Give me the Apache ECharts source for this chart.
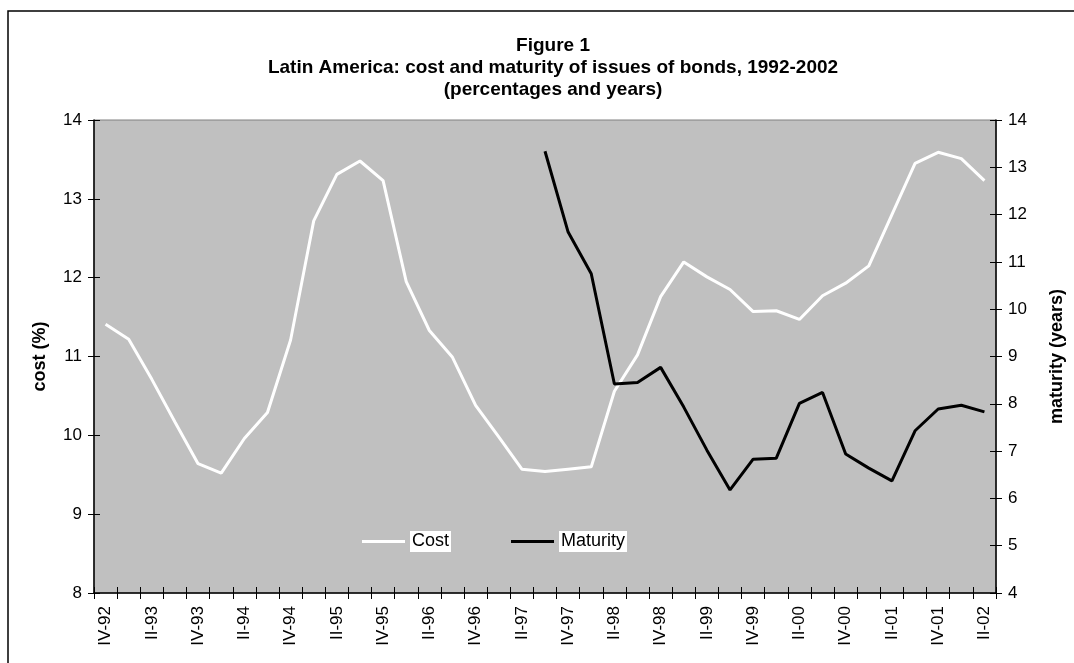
<!DOCTYPE html>
<html>
<head>
<meta charset="utf-8">
<script src="https://cdn.jsdelivr.net/npm/echarts@6/dist/echarts.min.js"></script>
<style>
html,body{margin:0;padding:0;background:#fff;}
#chart{width:1074px;height:663px;}
</style>
</head>
<body>
<div id="chart"></div>
<script>
// Quarters IV-92 .. II-02
const quarters = ['IV-92',
  'I-93','II-93','III-93','IV-93',
  'I-94','II-94','III-94','IV-94',
  'I-95','II-95','III-95','IV-95',
  'I-96','II-96','III-96','IV-96',
  'I-97','II-97','III-97','IV-97',
  'I-98','II-98','III-98','IV-98',
  'I-99','II-99','III-99','IV-99',
  'I-00','II-00','III-00','IV-00',
  'I-01','II-01','III-01','IV-01',
  'I-02','II-02'];

// cost (%), left axis
const cost = [11.41, 11.22, 10.71, 10.17, 9.64, 9.52, 9.96, 10.29, 11.21, 12.72,
  13.31, 13.48, 13.23, 11.95, 11.33, 10.99, 10.38, 9.98, 9.57, 9.54,
  9.57, 9.60, 10.56, 11.02, 11.76, 12.20, 12.01, 11.85, 11.57, 11.58,
  11.47, 11.77, 11.93, 12.15, 12.80, 13.45, 13.59, 13.51, 13.23];

// maturity (years), right axis
const maturity = [null, null, null, null, null, null, null, null, null, null,
  null, null, null, null, null, null, null, null, null, 13.34,
  11.63, 10.75, 8.42, 8.45, 8.77, 7.93, 7.02, 6.18, 6.83, 6.85,
  8.01, 8.24, 6.94, 6.64, 6.37, 7.43, 7.89, 7.97, 7.83];

const costTicks = {min: 8, max: 14, interval: 1};
const maturityTicks = {min: 4, max: 14, interval: 1};

const FONT = 'Liberation Sans, Arial, sans-serif';
const chart = echarts.init(document.getElementById('chart'));

const baseX = {
  type: 'category',
  data: quarters,
  boundaryGap: true,
  position: 'bottom',
  splitLine: {show: false}
};
const baseY = {
  type: 'value',
  splitLine: {show: false}
};

chart.setOption({
  animation: false,
  backgroundColor: '#ffffff',
  graphic: [{
    type: 'rect',
    shape: {x: 8, y: 11, width: 1100, height: 700},
    style: {fill: 'none', stroke: '#000', lineWidth: 1.5},
    silent: true
  }],
  title: {
    text: 'Figure 1\nLatin America: cost and maturity of issues of bonds, 1992-2002\n(percentages and years)',
    left: 548,
    top: 30,
    textAlign: 'center',
    textStyle: {fontFamily: FONT, fontWeight: 'bold', fontSize: 19, lineHeight: 22, color: '#000'}
  },
  legend: {
    left: 362,
    top: 531,
    padding: 0,
    itemWidth: 43,
    itemHeight: 3,
    itemGap: 60,
    itemTextGap: 3,
    textStyle: {fontFamily: FONT, fontSize: 18, color: '#000', backgroundColor: '#fff', padding: [2, 2, 1, 2]},
    data: [
      {name: 'Cost', icon: 'rect', itemStyle: {color: '#ffffff'}},
      {name: 'Maturity', icon: 'rect', itemStyle: {color: '#000000'}}
    ]
  },
  grid: {
    left: 94, right: 71, top: 120, bottom: 70,
    show: true,
    backgroundColor: '#c0c0c0',
    borderColor: '#808080',
    borderWidth: 1
  },
  xAxis: [
    Object.assign({}, baseX, {
      axisLine: {show: true, lineStyle: {color: '#000', width: 1.5}},
      axisTick: {show: true, interval: 0, length: 6, lineStyle: {color: '#000'}},
      axisLabel: {interval: 1, rotate: 90, margin: 13, fontFamily: FONT, fontSize: 17, color: '#000'}
    }),
    Object.assign({}, baseX, {
      axisLine: {show: false},
      axisTick: {show: true, inside: true, interval: 0, length: 6, lineStyle: {color: '#000'}},
      axisLabel: {show: false}
    })
  ],
  yAxis: [
    Object.assign({}, baseY, costTicks, {
      position: 'left',
      name: 'cost (%)',
      nameLocation: 'middle',
      nameGap: 45,
      nameRotate: 90,
      nameTextStyle: {fontFamily: FONT, fontWeight: 'bold', fontSize: 18, color: '#000'},
      axisLine: {show: true, lineStyle: {color: '#000', width: 1.5}},
      axisTick: {show: true, length: 6, lineStyle: {color: '#000'}},
      axisLabel: {margin: 12, fontFamily: FONT, fontSize: 17, color: '#000'}
    }),
    Object.assign({}, baseY, maturityTicks, {
      position: 'right',
      name: 'maturity (years)',
      nameLocation: 'middle',
      nameGap: 52,
      nameRotate: 90,
      nameTextStyle: {fontFamily: FONT, fontWeight: 'bold', fontSize: 18, color: '#000'},
      axisLine: {show: true, lineStyle: {color: '#000', width: 1.5}},
      axisTick: {show: true, length: 6, lineStyle: {color: '#000'}},
      axisLabel: {margin: 12, fontFamily: FONT, fontSize: 17, color: '#000'}
    }),
    Object.assign({}, baseY, costTicks, {
      position: 'left',
      axisLine: {show: false},
      axisTick: {show: true, inside: true, length: 6, lineStyle: {color: '#000'}},
      axisLabel: {show: false}
    }),
    Object.assign({}, baseY, maturityTicks, {
      position: 'right',
      axisLine: {show: false},
      axisTick: {show: true, inside: true, length: 6, lineStyle: {color: '#000'}},
      axisLabel: {show: false}
    })
  ],
  series: [
    {
      name: 'Cost',
      type: 'line',
      xAxisIndex: 0,
      yAxisIndex: 0,
      data: cost,
      showSymbol: false,
      symbol: 'none',
      lineStyle: {color: '#ffffff', width: 3},
      itemStyle: {color: '#ffffff'},
      z: 3
    },
    {
      name: 'Maturity',
      type: 'line',
      xAxisIndex: 0,
      yAxisIndex: 1,
      data: maturity,
      showSymbol: false,
      symbol: 'none',
      lineStyle: {color: '#000000', width: 3},
      itemStyle: {color: '#000000'},
      z: 4
    }
  ]
});
</script>
</body>
</html>
